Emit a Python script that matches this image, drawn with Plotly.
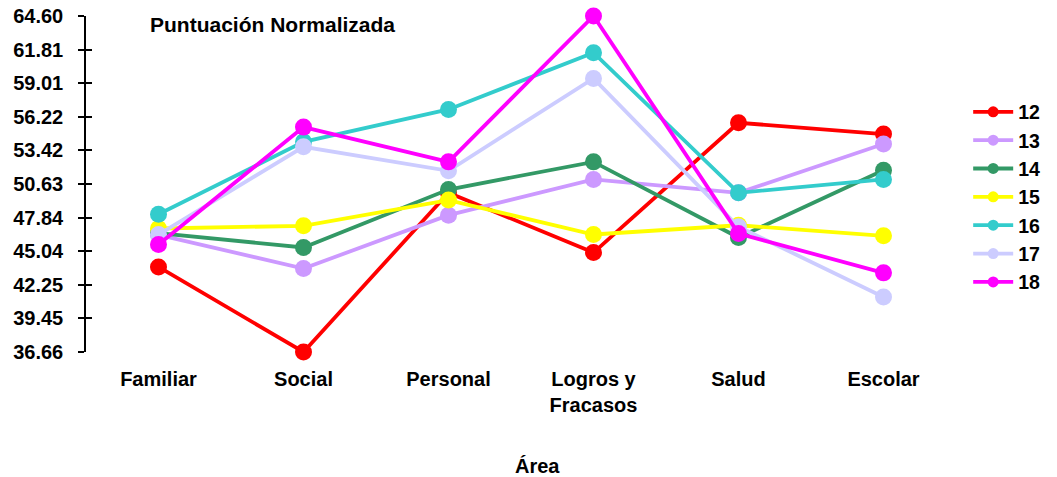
import plotly.graph_objects as go

areas = ["Familiar", "Social", "Personal", "Logros y<br>Fracasos", "Salud", "Escolar"]
series_names = ["12", "13", "14", "15", "16", "17", "18"]
v12 = [43.73, 36.66, 49.90, 44.93, 55.72, 54.78]
v13 = [46.40, 43.60, 48.04, 51.01, 49.90, 53.95]
v14 = [46.55, 45.35, 50.17, 52.47, 46.18, 51.78]
v15 = [46.93, 47.15, 49.29, 46.43, 47.20, 46.32]
v16 = [48.12, 54.14, 56.83, 61.55, 49.90, 51.01]
v17 = [46.43, 53.72, 51.73, 59.41, 47.07, 41.24]
v18 = [45.60, 55.36, 52.47, 64.60, 46.51, 43.24]
ytick_labels = ["36.66", "39.45", "42.25", "45.04", "47.84", "50.63",
                "53.42", "56.22", "59.01", "61.81", "64.60"]

colors = ["#FF0000", "#CC99FF", "#339966", "#FFFF00", "#33CCCC", "#CCCCFF", "#FF00FF"]
values = [v12, v13, v14, v15, v16, v17, v18]

font_family = "Liberation Sans, Arial, sans-serif"
bold = dict(family=font_family, color="black", weight="bold")

fig = go.Figure()
for name, vals, col in zip(series_names, values, colors):
    fig.add_trace(go.Scatter(
        x=areas, y=vals, name=name, mode="lines+markers",
        line=dict(color=col, width=3.8),
        marker=dict(color=col, size=17),
        showlegend=False, legendgroup=name, cliponaxis=False,
    ))
# legend-only entries with smaller markers
for name, col in zip(series_names, colors):
    fig.add_trace(go.Scatter(
        x=[None], y=[None], name=name, mode="lines+markers",
        line=dict(color=col, width=3.8),
        marker=dict(color=col, size=11),
        showlegend=True, legendgroup=name,
    ))

tickvals = [float(t) for t in ytick_labels]

fig.update_layout(
    width=1057, height=477,
    paper_bgcolor="white", plot_bgcolor="white",
    margin=dict(l=86, r=98, t=16, b=125),
    font=dict(family=font_family, color="black"),
    showlegend=True,
    legend=dict(
        x=1.014, y=0.772, xanchor="left", yanchor="top",
        font=dict(size=19.5, **bold),
        bgcolor="rgba(0,0,0,0)", tracegroupgap=0, itemwidth=40,
    ),
    xaxis=dict(
        type="category", range=[-0.5, 5.5], automargin=False,
        showline=False, showgrid=False, zeroline=False, ticks="",
        tickfont=dict(size=20, **bold),
        ticklabelstandoff=13,
    ),
    yaxis=dict(
        range=[36.66, 64.60], tickvals=tickvals, ticktext=ytick_labels,
        automargin=False,
        showline=True, linecolor="black", linewidth=1.5,
        ticks="outside", ticklen=6, tickwidth=1.5, tickcolor="black",
        showgrid=False, zeroline=False,
        tickfont=dict(size=20, **bold),
        ticklabelstandoff=11,
    ),
    yaxis2=dict(
        range=[36.66, 64.60], tickvals=tickvals, overlaying="y", side="left",
        automargin=False,
        showline=False, ticks="inside", ticklen=6, tickwidth=1.5, tickcolor="black",
        showticklabels=False, showgrid=False, zeroline=False,
    ),
    annotations=[
        dict(text="Puntuación Normalizada", xref="paper", yref="paper",
             x=0.071, y=0.976, xanchor="left", yanchor="middle", showarrow=False,
             font=dict(size=21, **bold)),
        dict(text="Área", xref="paper", yref="paper",
             x=0.519, y=-0.339, xanchor="center", yanchor="middle", showarrow=False,
             font=dict(size=20, **bold)),
    ],
)
# invisible trace to activate yaxis2
fig.add_trace(go.Scatter(x=[areas[0]], y=[tickvals[0]], yaxis="y2", showlegend=False,
                         mode="markers", marker=dict(opacity=0), hoverinfo="skip"))

fig.write_html("out.html", config={"displayModeBar": False},
               post_script="document.body.style.margin='0';document.body.style.overflow='hidden';")
